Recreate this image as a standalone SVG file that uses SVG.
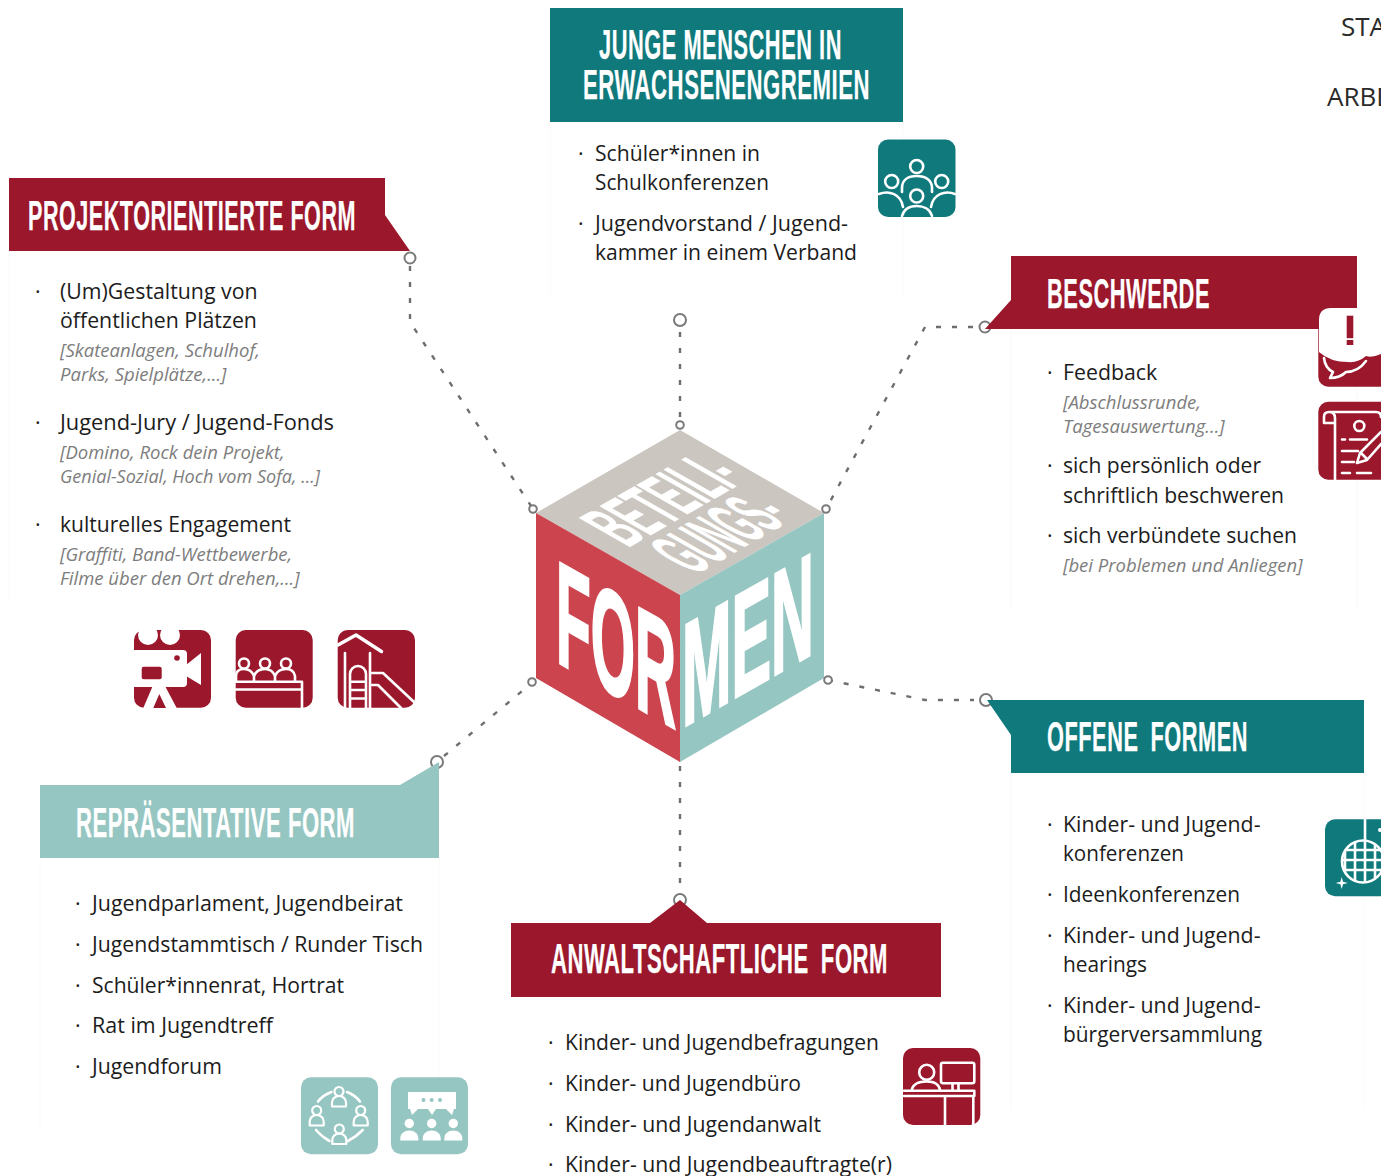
<svg xmlns="http://www.w3.org/2000/svg" width="1381" height="1176" viewBox="0 0 1381 1176">
<style>
text{font-family:"Open Sans","Noto Sans",sans-serif}
.b{font-size:21.300px;fill:#1c1c1c}
.i{font-size:18.500px;font-style:italic;fill:#7d7d7d}
.h{font-family:"Liberation Sans Narrow","Liberation Sans",sans-serif;font-weight:700;font-size:42px;letter-spacing:1px;fill:#fff;stroke:#fff;stroke-width:.25px}
.c{font-family:"Liberation Sans Narrow","Liberation Sans",sans-serif;font-weight:700;fill:#fff;stroke:#fff}
.red{fill:#9b172b}.teal{fill:#10797c}.mint{fill:#96c6c2}
.w{fill:none;stroke:#fff;stroke-width:2.600;stroke-linecap:round;stroke-linejoin:round}
.wf{fill:#fff}
.dash{fill:none;stroke:#6e6e6e;stroke-width:2.400;stroke-dasharray:5 11}
.dot{fill:#fff;stroke:#7a7a7a;stroke-width:2}
.faint{fill:none;stroke:#fafafa;stroke-width:1}
</style>
<defs>
<clipPath id="ball"><circle cx="1363" cy="861.500" r="21"/></clipPath>
<g id="person"><circle cx="0" cy="0" r="4.500" class="w" style="stroke-width:2.200"/><path d="M-7 15V11A7 6.500 0 0 1 7 11V15Z" class="w" style="stroke-width:2.200"/></g>
<g id="solid"><circle cx="0" cy="0" r="4.700" class="wf"/><path d="M-9 17V15C-9 10-5 7 0 7S9 10 9 15V17Z" class="wf"/></g>
</defs>
<rect width="1381" height="1176" fill="#fff"/>
<path class="faint" d="M550 122V295M903 122V295M9 251V600M1011 329V608M1357 329V608M1011 773V1110M1364 773V1110M40 858V1130M439 858V1080"/>

<g id="connectors">
<path class="dash" d="M410 266V322L533 509"/>
<path class="dash" d="M680 332V425"/>
<path class="dash" d="M973 327H925L826 509"/>
<path class="dash" d="M828 680L925 700H974"/>
<path class="dash" d="M680 766V888"/>
<path class="dash" d="M444 756L533 682"/>
<circle class="dot" cx="410" cy="258" r="5.500"/>
<circle class="dot" cx="680" cy="320" r="6"/>
<circle class="dot" cx="985" cy="327" r="5.500"/>
<circle class="dot" cx="986" cy="700" r="6"/>
<circle class="dot" cx="437" cy="762" r="6"/>
<circle class="dot" cx="680" cy="900" r="6"/>
</g>

<g id="cube">
<path d="M680 430L824 513L680 595L536 513Z" fill="#cbc6c0"/>
<path d="M536 513L680 595V762L536 678Z" fill="#cb444e"/>
<path d="M824 513L680 595V762L824 678Z" fill="#96c6c2"/>
<text class="c" transform="matrix(1 .57 0 1 556 661)" font-size="146" textLength="120" lengthAdjust="spacingAndGlyphs" style="stroke-width:3px">FOR</text>
<text class="c" transform="matrix(1 -.57 0 1 682 728)" font-size="146" textLength="132" lengthAdjust="spacingAndGlyphs" style="stroke-width:3px">MEN</text>
<text class="c" transform="matrix(1 -.57 1 .57 628 548)" font-size="74" textLength="120" lengthAdjust="spacingAndGlyphs" style="stroke-width:.3px">BETEILI-</text>
<text class="c" transform="matrix(1 -.57 1 .57 695 575)" font-size="72" textLength="100" lengthAdjust="spacingAndGlyphs" style="stroke-width:.3px">GUNGS-</text>
<circle class="dot" cx="680" cy="425" r="3.800"/>
<circle class="dot" cx="533" cy="509" r="3.800"/>
<circle class="dot" cx="826" cy="509" r="3.800"/>
<circle class="dot" cx="532" cy="682" r="3.800"/>
<circle class="dot" cx="828" cy="680" r="3.800"/>
</g>

<g id="node-junge">
<rect class="teal" x="550" y="8" width="353" height="114"/>
<text class="h" x="599" y="59" textLength="243" lengthAdjust="spacingAndGlyphs">JUNGE MENSCHEN IN</text>
<text class="h" x="583" y="99" textLength="287" lengthAdjust="spacingAndGlyphs">ERWACHSENENGREMIEN</text>
<text class="b" x="578" y="161">·</text><text class="b" x="595" y="161" textLength="165" lengthAdjust="spacingAndGlyphs">Schüler*innen in</text>
<text class="b" x="595" y="190" textLength="174" lengthAdjust="spacingAndGlyphs">Schulkonferenzen</text>
<text class="b" x="578" y="231">·</text><text class="b" x="595" y="231" textLength="253" lengthAdjust="spacingAndGlyphs">Jugendvorstand / Jugend-</text>
<text class="b" x="595" y="260" textLength="262" lengthAdjust="spacingAndGlyphs">kammer in einem Verband</text>
<g id="icon-team">
<rect class="teal" x="878" y="139.500" width="77.500" height="77.500" rx="10"/>
<circle class="w" cx="916.700" cy="166.500" r="6.500"/>
<circle class="w" cx="891.700" cy="181.500" r="6.500"/>
<circle class="w" cx="941.700" cy="181.500" r="6.500"/>
<circle class="w" cx="916.700" cy="196" r="6.500"/>
<path class="w" d="M902 192V188C902 180 908 176 916.700 176S932 180 932 188V192"/>
<path class="w" d="M879 194C889 190 901 194 903 207M955 194C945 190 933 194 931 207"/>
<path class="w" d="M902 216C904 209 910 206 916.700 206S930 209 932 216"/>
</g>
</g>

<g id="node-projekt">
<path class="red" d="M9 178H385V215L410 251H9Z"/>
<text class="h" x="28" y="230" textLength="328" lengthAdjust="spacingAndGlyphs">PROJEKTORIENTIERTE FORM</text>
<text class="b" x="35" y="299">·</text><text class="b" x="60" y="299">(Um)Gestaltung von</text>
<text class="b" x="60" y="328">öffentlichen Plätzen</text>
<text class="i" x="60" y="357">[Skateanlagen, Schulhof,</text>
<text class="i" x="60" y="381">Parks, Spielplätze,...]</text>
<text class="b" x="35" y="430">·</text><text class="b" x="60" y="430" textLength="274" lengthAdjust="spacingAndGlyphs">Jugend-Jury / Jugend-Fonds</text>
<text class="i" x="60" y="459">[Domino, Rock dein Projekt,</text>
<text class="i" x="60" y="483" textLength="260" lengthAdjust="spacingAndGlyphs">Genial-Sozial, Hoch vom Sofa, ...]</text>
<text class="b" x="35" y="532">·</text><text class="b" x="60" y="532" textLength="231" lengthAdjust="spacingAndGlyphs">kulturelles Engagement</text>
<text class="i" x="60" y="561">[Graffiti, Band-Wettbewerbe,</text>
<text class="i" x="60" y="585">Filme über den Ort drehen,...]</text>
<g id="icon-camera">
<rect class="red" x="134" y="630" width="77" height="77.700" rx="10"/>
<circle class="wf" cx="148" cy="635" r="10"/><circle class="wf" cx="170" cy="635" r="10"/>
<rect class="wf" x="130" y="650" width="57" height="37" rx="4"/>
<path class="wf" d="M186 665L201 653V685L186 676Z"/>
<circle class="red" cx="177" cy="658" r="2.800"/>
<rect class="red" x="141.700" y="666.700" width="20" height="12.500" rx="2"/>
<path class="wf" d="M152.700 686H165L176.700 708H143.300Z"/>
<path class="red" d="M159.300 694L153.300 708H166Z"/>
</g>
<g id="icon-panel">
<rect class="red" x="235.700" y="630" width="77" height="77.700" rx="10"/>
<circle class="w" cx="244" cy="663.500" r="5"/><circle class="w" cx="265" cy="663.500" r="5"/><circle class="w" cx="286" cy="663.500" r="5"/>
<path class="w" d="M236 681V676C236 671 240 669 244 669S252 671 254 676V681M254 676C256 671 260 669 265 669S273 671 275 676V681M275 676C277 671 281 669 286 669S294 671 295 676V681"/>
<path class="w" d="M236 681.700H302V708M236 689.500H301"/>
</g>
<g id="icon-slide">
<rect class="red" x="337.700" y="630" width="77.300" height="77.700" rx="10"/>
<path class="w" style="stroke-width:3.500" d="M338 645L356 635L381.500 651.500"/>
<path class="w" d="M345 653V708M370 653V708M350 708V674A8 8 0 0 1 366 674V708M350 681.700H366M350 690H366M350 698.500H366"/>
<path class="w" d="M372 673H383L414 702M372 685H378L401 708"/>
</g>
</g>

<g id="node-beschwerde">
<path class="red" d="M1011 256H1357V329H985L1011 300Z"/>
<text class="h" x="1047" y="308" textLength="163" lengthAdjust="spacingAndGlyphs">BESCHWERDE</text>
<text class="b" x="1047" y="380">·</text><text class="b" x="1063" y="380">Feedback</text>
<text class="i" x="1063" y="409">[Abschlussrunde,</text>
<text class="i" x="1063" y="433">Tagesauswertung...]</text>
<text class="b" x="1047" y="473">·</text><text class="b" x="1063" y="473" textLength="198" lengthAdjust="spacingAndGlyphs">sich persönlich oder</text>
<text class="b" x="1063" y="503" textLength="221" lengthAdjust="spacingAndGlyphs">schriftlich beschweren</text>
<text class="b" x="1047" y="543">·</text><text class="b" x="1063" y="543" textLength="234" lengthAdjust="spacingAndGlyphs">sich verbündete suchen</text>
<text class="i" x="1063" y="572">[bei Problemen und Anliegen]</text>
<g id="icon-bubble">
<rect class="red" x="1318.300" y="320" width="90" height="66.700" rx="10"/>
<path class="wf" d="M1319 352V320Q1319 308 1331 308H1390V350L1381 354Q1372 358 1366 356Q1358 363 1348 362Q1330 362 1319 352Z"/>
<rect class="red" x="1346.700" y="315.700" width="6.600" height="22.500"/>
<rect class="red" x="1346.700" y="340" width="6.600" height="5"/>
<path class="w" d="M1324 358Q1325 368 1333 372L1330 378Q1340 378 1346 372Q1358 372 1366 361"/>
</g>
<g id="icon-scroll">
<rect class="red" x="1318.300" y="401.700" width="90" height="78" rx="10"/>
<path class="w" d="M1324 423V417Q1324 412 1329 412H1376Q1381 412 1381 417M1329 412Q1335 412 1335 418V480M1324 423H1334"/>
<circle class="w" cx="1359.300" cy="426" r="5"/>
<path class="w" d="M1342 439.500H1345M1350 439.500H1367M1342 451H1358M1342 462H1354M1342 473H1350M1357 473H1371"/>
<path class="w" d="M1357 463L1360 453L1381 432M1357 463L1367 460L1381 444M1361 453L1367 459"/>
</g>
</g>

<g id="node-offene">
<path class="teal" d="M987 700H1364V773H1011V735Z"/>
<text class="h" x="1047" y="751" textLength="201" lengthAdjust="spacingAndGlyphs" style="word-spacing:.25em">OFFENE FORMEN</text>
<text class="b" x="1047" y="832">·</text><text class="b" x="1063" y="832">Kinder- und Jugend-</text>
<text class="b" x="1063" y="861" textLength="121" lengthAdjust="spacingAndGlyphs">konferenzen</text>
<text class="b" x="1047" y="902">·</text><text class="b" x="1063" y="902" textLength="177" lengthAdjust="spacingAndGlyphs">Ideenkonferenzen</text>
<text class="b" x="1047" y="943">·</text><text class="b" x="1063" y="943">Kinder- und Jugend-</text>
<text class="b" x="1063" y="972" textLength="84" lengthAdjust="spacingAndGlyphs">hearings</text>
<text class="b" x="1047" y="1013">·</text><text class="b" x="1063" y="1013">Kinder- und Jugend-</text>
<text class="b" x="1063" y="1042" textLength="199" lengthAdjust="spacingAndGlyphs">bürgerversammlung</text>
<g id="icon-disco">
<rect class="teal" x="1325" y="819.300" width="90" height="77" rx="10"/>
<path class="w" d="M1365 819V840"/>
<circle class="w" cx="1363" cy="861.500" r="21"/>
<path class="w" clip-path="url(#ball)" d="M1345 838V885M1355 838V885M1365 838V885M1375 838V885M1340 850H1385M1340 860H1385M1340 870H1385"/>
<path class="wf" d="M1341.700 877L1343 881.700L1347.700 883L1343 884.300L1341.700 889L1340.400 884.300L1335.700 883L1340.400 881.700Z"/>
<circle class="wf" cx="1380" cy="830" r="2"/>
</g>
</g>

<g id="node-repraesentativ">
<path class="mint" d="M40 785H400L439 762V858H40Z"/>
<text class="h" x="76" y="837" textLength="279" lengthAdjust="spacingAndGlyphs">REPRÄSENTATIVE FORM</text>
<text class="b" x="75" y="911">·</text><text class="b" x="92" y="911" textLength="311" lengthAdjust="spacingAndGlyphs">Jugendparlament, Jugendbeirat</text>
<text class="b" x="75" y="952">·</text><text class="b" x="92" y="952" textLength="331" lengthAdjust="spacingAndGlyphs">Jugendstammtisch / Runder Tisch</text>
<text class="b" x="75" y="993">·</text><text class="b" x="92" y="993" textLength="252" lengthAdjust="spacingAndGlyphs">Schüler*innenrat, Hortrat</text>
<text class="b" x="75" y="1033">·</text><text class="b" x="92" y="1033" textLength="181" lengthAdjust="spacingAndGlyphs">Rat im Jugendtreff</text>
<text class="b" x="75" y="1074">·</text><text class="b" x="92" y="1074">Jugendforum</text>
<g id="icon-circle">
<rect class="mint" x="301" y="1077.300" width="77" height="77" rx="10"/>
<use href="#person" x="339" y="1091.500"/>
<use href="#person" x="360.700" y="1110.500"/>
<use href="#person" x="339.300" y="1129"/>
<use href="#person" x="316.700" y="1110.500"/>
<path class="w" d="M318 1101.500Q323 1095 331.500 1092M347 1092Q355 1095 360 1101.500M316 1130Q322 1137 329.500 1141M348 1141Q356 1137 362.700 1130"/>
</g>
<g id="icon-meeting">
<rect class="mint" x="391" y="1077.300" width="77" height="77" rx="10"/>
<path class="wf" d="M408 1092H456V1109H454L452 1115L446 1109H436L432 1115L428 1109H418L412 1115L410 1109H408Z"/>
<circle class="mint" cx="423.500" cy="1100" r="2"/><circle class="mint" cx="431.700" cy="1100" r="2"/><circle class="mint" cx="440" cy="1100" r="2"/>
<use href="#solid" x="409.300" y="1123.500"/>
<use href="#solid" x="431.700" y="1123.500"/>
<use href="#solid" x="453.300" y="1123.500"/>
</g>
</g>

<g id="node-anwalt">
<path class="red" d="M511 923H650L680 900L707 923H941V997H511Z"/>
<text class="h" x="551" y="973" textLength="337" lengthAdjust="spacingAndGlyphs" style="word-spacing:.25em">ANWALTSCHAFTLICHE FORM</text>
<text class="b" x="548" y="1050">·</text><text class="b" x="565" y="1050" textLength="314" lengthAdjust="spacingAndGlyphs">Kinder- und Jugendbefragungen</text>
<text class="b" x="548" y="1091">·</text><text class="b" x="565" y="1091" textLength="236" lengthAdjust="spacingAndGlyphs">Kinder- und Jugendbüro</text>
<text class="b" x="548" y="1132">·</text><text class="b" x="565" y="1132" textLength="256" lengthAdjust="spacingAndGlyphs">Kinder- und Jugendanwalt</text>
<text class="b" x="548" y="1172">·</text><text class="b" x="565" y="1172" textLength="327" lengthAdjust="spacingAndGlyphs">Kinder- und Jugendbeauftragte(r)</text>
<g id="icon-desk">
<rect class="red" x="903" y="1048" width="77.300" height="77" rx="10"/>
<circle class="w" cx="926.700" cy="1072.300" r="7.500"/>
<path class="w" d="M911.700 1090C913 1084 919 1081.500 926.700 1081.500S939 1084 940 1090"/>
<rect class="w" x="941" y="1062.700" width="33.300" height="20.600" rx="2"/>
<path class="w" d="M952.500 1084V1090M958.500 1084V1090"/>
<path class="w" d="M904 1090.700H974.300V1096H904M945 1096V1125M973.300 1096V1125"/>
</g>
</g>

<g id="top-right">
<text x="1341" y="36" style="font-size:26px;fill:#2a2a2a">STA</text>
<text x="1327" y="106" style="font-size:26px;fill:#2a2a2a">ARBE</text>
</g>
</svg>
